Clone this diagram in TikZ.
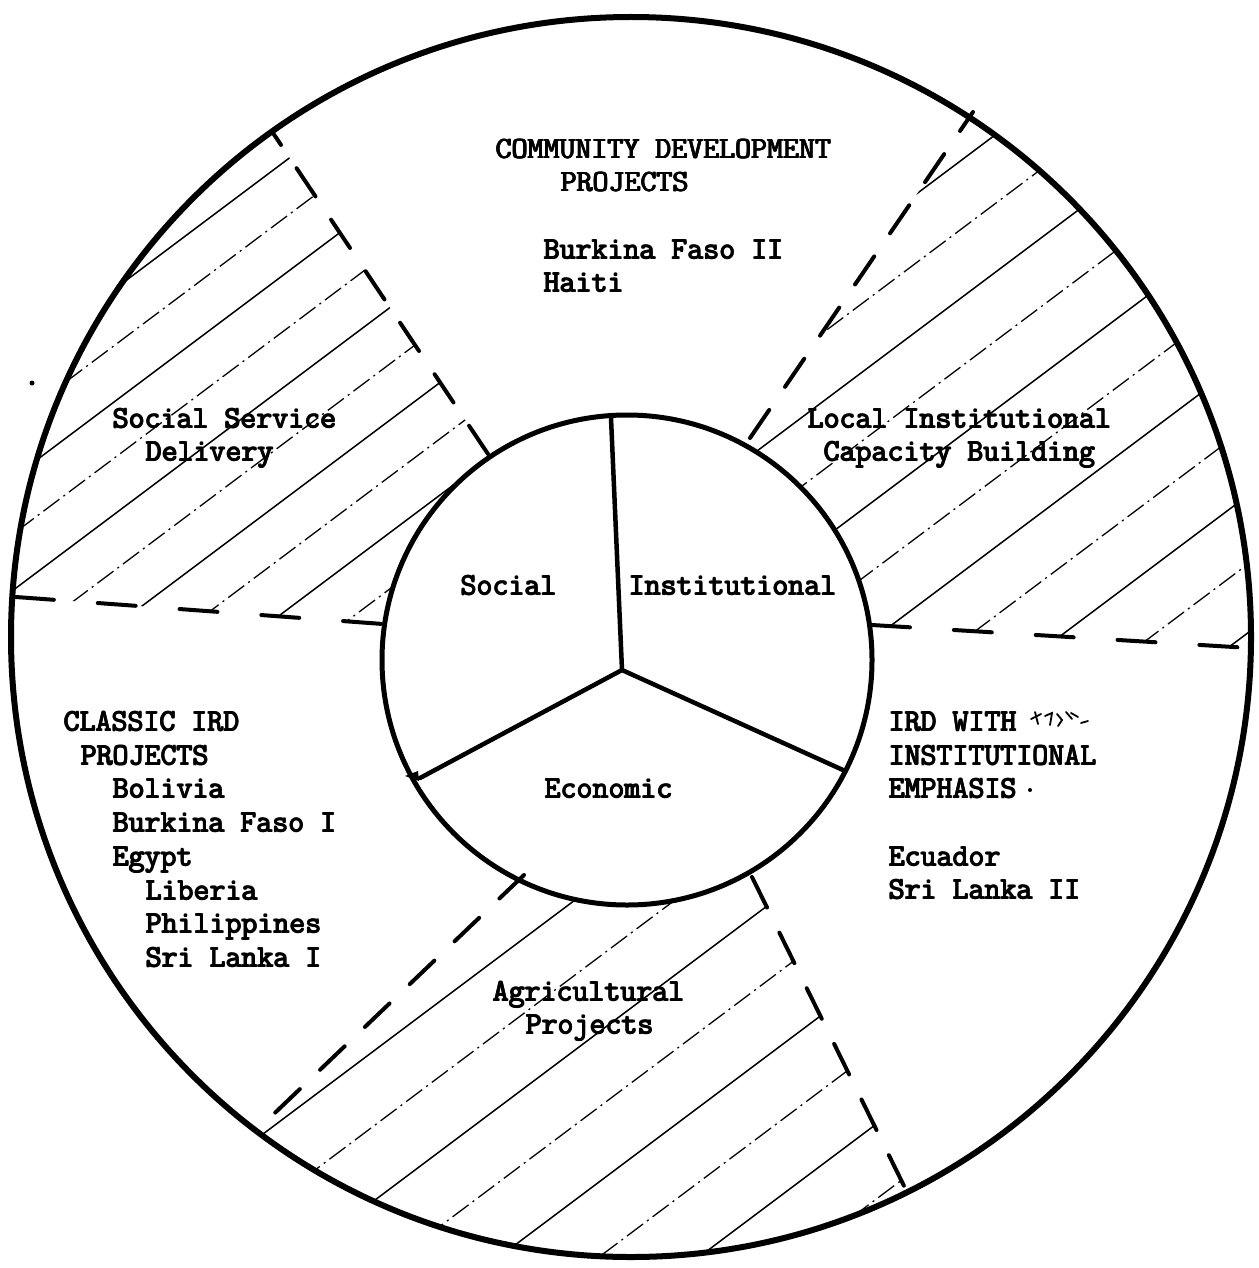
\documentclass[tikz,border=0pt]{standalone}
\usepackage{fontspec}
\newcommand\typ{\ttfamily\fontsize{31}{33}\selectfont}
% typewriter ink: the text is struck four times with tiny offsets
\newcommand\heavy[1]{\makebox[0pt][l]{\hspace{1.1pt}#1}\makebox[0pt][l]{\raisebox{0.8pt}{#1}}\makebox[0pt][l]{\hspace{1.1pt}\raisebox{0.8pt}{#1}}#1}
\begin{document}
\begin{tikzpicture}[x=1pt,y=-1pt,
  ring/.style={line width=6pt},
  hub/.style={line width=5pt},
  spoke/.style={line width=4.5pt,line cap=round},
  divider/.style={line width=4pt,line cap=round,dash pattern=on 34pt off 28pt},
  flatdivider/.style={line width=4pt,line cap=round,dash pattern=on 38pt off 44pt},
  hatchsolid/.style={line width=1.5pt},
  hatchbroken/.style={line width=1.3pt,dash pattern=on 20pt off 5pt on 2pt off 5pt},
  lbl/.style={font=\typ,inner sep=0pt,anchor=base west},
  mid/.style={font=\typ,inner sep=0pt,anchor=base}]
\fill[white] (0,0) rectangle (1258,1268);
\useasboundingbox (0,0) rectangle (1258,1268);

% centres of the two rings and the hub junction
\coordinate (O) at (631,637);
\coordinate (I) at (627,660);
\coordinate (J) at (622,670);
% spoke ends on the hub
\coordinate (sT) at (611,418);
\coordinate (sL) at (420,778);
\coordinate (sR) at (843,770);
% divider ends (inner / outer)
\coordinate (ulIn) at (488,454);  \coordinate (ulOut) at (273,133);
\coordinate (urIn) at (750,438);  \coordinate (urOut) at (973,112);
\coordinate (lIn)  at (383,624);  \coordinate (lOut)  at (16,597);
\coordinate (rIn)  at (872,625);  \coordinate (rOut)  at (1250,648);
\coordinate (llIn) at (524,875);  \coordinate (llOut) at (257,1130);
\coordinate (lrIn) at (752,877);  \coordinate (lrOut) at (907,1192);

% hatched sectors
\begin{scope}[even odd rule]
  \clip (O) circle[radius=620pt] (I) circle[radius=245pt];
  \begin{scope}[nonzero rule]
    \clip (I) -- (ulIn) -- (187,5) -- (-100,5) -- (-91,589) -- (lIn) -- cycle;
    \foreach \c [count=\k] in {300,345,...,705} {
      \ifodd\k
        \draw[hatchsolid] ({0.6*\c-1600},{0.8*\c+1200}) -- ({0.6*\c+1600},{0.8*\c-1200});
      \else
        \draw[hatchbroken] ({0.6*\c-1600},{0.8*\c+1200}) -- ({0.6*\c+1600},{0.8*\c-1200});
      \fi
    }
  \end{scope}
  \begin{scope}[nonzero rule]
    \clip (I) -- (urIn) -- (1062,-18) -- (1400,-18) -- (1363,655) -- (rIn) -- cycle;
    \foreach \c [count=\k] in {705,760,...,1255} {
      \ifodd\k
        \draw[hatchsolid] ({0.6*\c-1600},{0.8*\c+1200}) -- ({0.6*\c+1600},{0.8*\c-1200});
      \else
        \draw[hatchbroken] ({0.6*\c-1600},{0.8*\c+1200}) -- ({0.6*\c+1600},{0.8*\c-1200});
      \fi
    }
  \end{scope}
  \begin{scope}[nonzero rule]
    \clip (I) -- (llIn) -- (150,1232) -- (150,1400) -- (1100,1400) -- (969,1318) -- (lrIn) -- cycle;
    \foreach \c [count=\k] in {1065,1125,...,1485} {
      \ifodd\k
        \draw[hatchsolid] ({0.6*\c-1600},{0.8*\c+1200}) -- ({0.6*\c+1600},{0.8*\c-1200});
      \else
        \draw[hatchbroken] ({0.6*\c-1600},{0.8*\c+1200}) -- ({0.6*\c+1600},{0.8*\c-1200});
      \fi
    }
  \end{scope}
\end{scope}

% dashed dividers between the outer sectors
\draw[divider] (ulIn) -- (ulOut);
\draw[divider] (urIn) -- (urOut);
\draw[flatdivider] (lOut) -- (lIn);
\draw[flatdivider] (rIn) -- (rOut);
\draw[divider] (llIn) -- (llOut);
\draw[divider] (lrIn) -- (lrOut);

% rings and spokes
\draw[ring] (O) circle[radius=620pt];
\draw[hub] (I) circle[radius=245pt];
\draw[spoke] (J) -- (sT);
\draw[spoke] (J) -- (sL);
\draw[spoke] (J) -- (sR);
\fill (405,776) -- (418,771) -- (419,781) -- cycle;

% hub labels
\node[mid] (social) at (508,595) {\heavy{Social}};
\node[mid] (inst) at (732,595) {\heavy{Institutional}};
\node[mid] (econ) at (608,798) {\heavy{Economic}};

% community development
\node[lbl] (cd1) at (495,159) {\heavy{COMMUNITY DEVELOPMENT}};
\node[lbl] (cd2) at (560,192) {\heavy{PROJECTS}};
\node[lbl] (cd3) at (543,259) {\heavy{Burkina Faso II}};
\node[lbl] (cd4) at (543,292) {\heavy{Haiti}};

% social service delivery
\node[lbl] (ss1) at (112,428) {\heavy{Social Service}};
\node[lbl] (ss2) at (145,461) {\heavy{Delivery}};

% local institutional capacity building
\node[lbl] (li1) at (807,428) {\heavy{Local Institutional}};
\node[lbl] (li2) at (823,461) {\heavy{Capacity Building}};

% classic IRD projects
\node[lbl] (cl1) at (63,731) {\heavy{CLASSIC IRD}};
\node[lbl] (cl2) at (80,765) {\heavy{PROJECTS}};
\node[lbl] (cl3) at (112,798) {\heavy{Bolivia}};
\node[lbl] (cl4) at (112,832) {\heavy{Burkina Faso I}};
\node[lbl] (cl5) at (112,866) {\heavy{Egypt}};
\node[lbl] (cl6) at (145,900) {\heavy{Liberia}};
\node[lbl] (cl7) at (145,933) {\heavy{Philippines}};
\node[lbl] (cl8) at (145,967) {\heavy{Sri Lanka I}};

% IRD with institutional emphasis
\node[lbl] (ie1) at (888,731) {\heavy{IRD WITH}};
\node[lbl] (ie2) at (888,765) {\heavy{INSTITUTIONAL}};
\node[lbl] (ie3) at (888,798) {\heavy{EMPHASIS}};
\node[lbl] (ie4) at (888,866) {\heavy{Ecuador}};
\node[lbl] (ie5) at (888,899) {\heavy{Sri Lanka II}};
\draw[line width=1.8pt,line cap=round]
  (1031,719) -- (1041,714) (1035,712) -- (1038,724)
  (1045,716) -- (1052,713) -- (1050,725)
  (1057,714) -- (1062,720) -- (1058,726)
  (1066,712) -- (1072,719) (1071,713) -- (1078,717)
  (1081,723) -- (1088,721);
\fill (1030,790) circle[radius=2pt];
\fill (32,383) circle[radius=2.5pt];

% agricultural projects
\node[lbl] (ag1) at (492,1001) {\heavy{Agricultural}};
\node[lbl] (ag2) at (525,1034) {\heavy{Projects}};
\end{tikzpicture}
\end{document}
